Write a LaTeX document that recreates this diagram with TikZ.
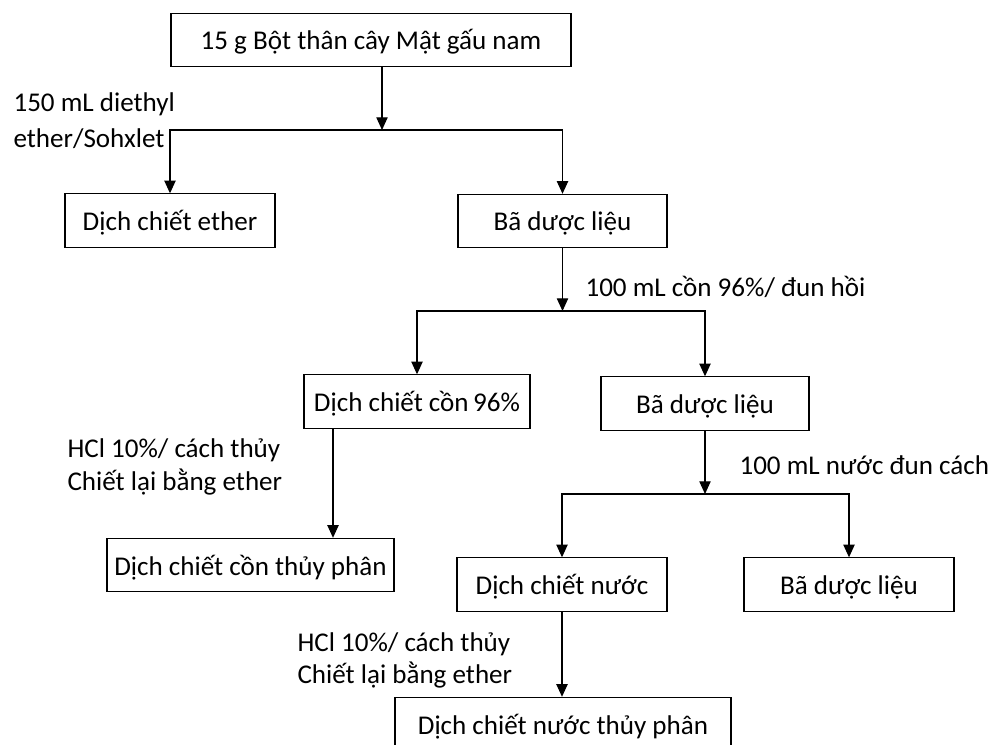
\documentclass[tikz,border=0pt]{standalone}
\usepackage{fontspec}
\setmainfont{Carlito}
\usetikzlibrary{arrows.meta}
\begin{document}
\begin{tikzpicture}[x=0.75pt, y=-0.75pt, line width=0.8pt,
    font=\fontsize{20.3}{24}\selectfont,
    box/.style={draw, inner sep=0pt, minimum height=40pt, text height=16.5pt, text depth=1.5pt},
    lbl/.style={anchor=base west, inner sep=0pt},
    arr/.style={-{Triangle[width=8.5pt,length=9.5pt]}}]
            \clip (0,0) rectangle (989,745);
            \node[box, minimum width=300pt] (top) at (371,40) {15 g Bột thân cây Mật gấu nam};
            \node[box, minimum width=157.5pt] (ether) at (170,220.5) {Dịch chiết ether};
            \node[box, minimum width=156.75pt] (ba1) at (562.5,221) {Bã dược liệu};
            \node[box, minimum width=169.5pt] (con) at (417,401.5) {Dịch chiết cồn\,96\%};
            \node[box, minimum width=156pt] (ba2) at (705,403.5) {Bã dược liệu};
            \node[box, minimum width=215.25pt] (conTP) at (250.5,565) {Dịch chiết cồn thủy phân};
            \node[box, minimum width=157.5pt] (nuoc) at (562,584.5) {Dịch chiết nước};
            \node[box, minimum width=157.5pt] (ba3) at (849,584.5) {Bã dược liệu};
            \node[box, minimum width=252pt] (nuocTP) at (563,724) {Dịch chiết nước thủy phân};
            \node[lbl] (ethA) at (13,112) {150 mL diethyl};
            \node[lbl] (ethB) at (13,148) {ether/Sohxlet};
            \node[lbl] (conA) at (585,297) {100 mL cồn 96\%/ đun hồi};
            \node[lbl] (hclA) at (67,457) {HCl 10\%/ cách thủy};
            \node[lbl] (hclB) at (67,490) {Chiết lại bằng ether};
            \node[lbl] (nuocA) at (739,474) {100 mL nước đun cách};
            \node[lbl] (hclC) at (297,651) {HCl 10\%/ cách thủy};
            \node[lbl] (hclD) at (297,683) {Chiết lại bằng ether};
            \coordinate (j1) at (382,130);
            \coordinate (j2) at (ba1.south |- 0,311);
            \coordinate (j3) at (ba2.south |- 0,494);
            \coordinate (c1) at (333,0);
            \draw [arr] (top.south -| j1) -- (j1);
            \draw [arr] (j1) -| (ether.north);
            \draw [arr] (j1) -| (ba1.north);
            \draw [arr] (ba1.south) -- (j2);
            \draw [arr] (j2) -| (con.north);
            \draw [arr] (j2) -| (ba2.north);
            \draw [arr] (ba2.south) -- (j3);
            \draw [arr] (j3) -| (nuoc.north);
            \draw [arr] (j3) -| (ba3.north);
            \draw [arr] (con.south -| c1) -- (conTP.north -| c1);
            \draw [arr] (nuoc.south) -- (nuoc.south |- nuocTP.north);
        \end{tikzpicture}
\end{document}
